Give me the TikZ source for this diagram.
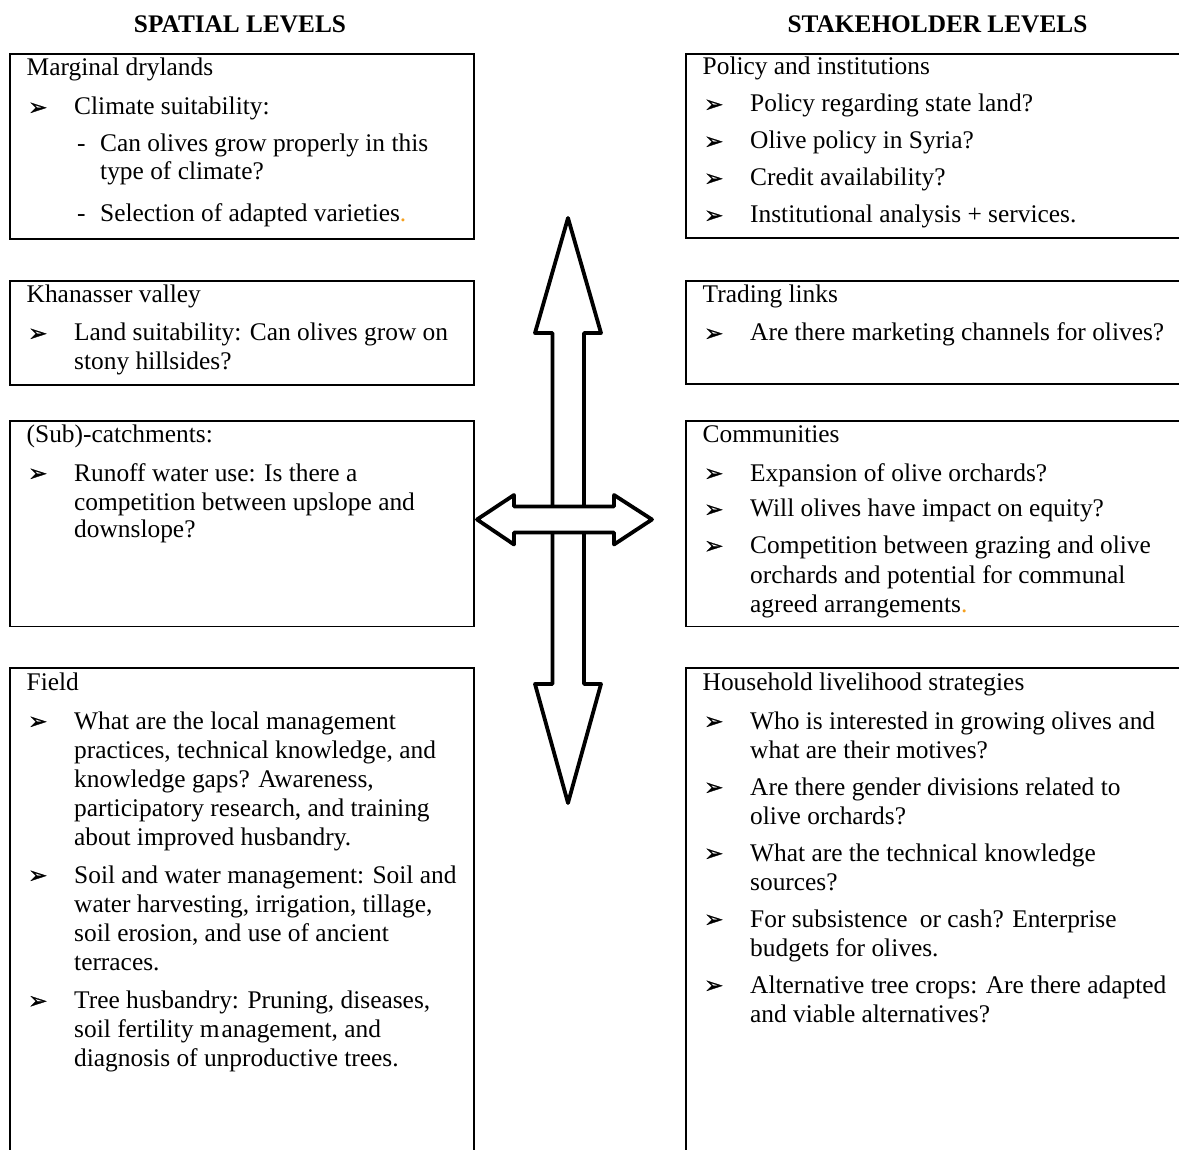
\documentclass[tikz,border=0pt]{standalone}
\usepackage{fontspec}
\setmainfont{Liberation Serif}
\newfontfamily\djv{DejaVu Sans}[FakeBold=1.2]
\definecolor{dotorange}{RGB}{245,160,30}
\newcommand\bulglyph{{\djv\fontsize{23}{23}\selectfont ➢}}
\newcommand\myhd[1]{\hspace*{17.5pt}#1}
\newcommand\mybu[1]{\hspace*{19pt}\makebox[46pt][l]{\bulglyph}#1}
\newcommand\myct[1]{\hspace*{65pt}#1}
\newcommand\mysd[1]{\hspace*{68pt}\makebox[23pt][l]{-}#1}
\newcommand\mysc[1]{\hspace*{91pt}#1}
\newenvironment{lines}{\begin{tabular}[t]{@{}l@{}}}{\end{tabular}}
\tikzset{
  frame/.style={draw=black, line width=1.8pt, inner sep=0pt, anchor=north west},
  txt/.style={anchor=base west, inner sep=0pt, font=\fontsize{25.4}{29}\selectfont},
  ttl/.style={anchor=base, inner sep=0pt, font=\fontsize{25.3}{29}\selectfont\bfseries},
  bigarrow/.style={draw=black, fill=white, line width=3.8pt, line join=round},
}
\begin{document}
\begin{tikzpicture}[x=1pt,y=-1pt]
\useasboundingbox (0,0) rectangle (1179,1150);
\clip (0,0) rectangle (1179,1150);
\fill[white] (0,0) rectangle (1179,1150);

% titles
\node[ttl] (tl) at (240,33) {SPATIAL LEVELS};
\node[ttl] (tr) at (937.5,33) {STAKEHOLDER LEVELS};

% left frames
\node[frame, minimum width=464pt, minimum height=185pt] (b1) at (9,53) {};
\node[frame, minimum width=464pt, minimum height=104pt] (b2) at (9,280) {};
\node[frame, minimum width=464pt, minimum height=205pt] (b3) at (9,420.5) {};
\node[frame, minimum width=464pt, minimum height=520pt] (b4) at (9,667) {};
% right frames
\node[frame, minimum width=520pt, minimum height=184pt] (r1) at (685,53) {};
\node[frame, minimum width=520pt, minimum height=103pt] (r2) at (685,280) {};
\node[frame, minimum width=520pt, minimum height=205pt] (r3) at (685,420.5) {};
\node[frame, minimum width=520pt, minimum height=520pt] (r4) at (685,667) {};

% left texts
\node[txt] (t1) at (9,76) {\begin{lines}\myhd{Marginal drylands}\\[10pt]
\mybu{Climate suitability:}\\[8pt]
\mysd{Can olives grow properly in this}\\[-1pt]
\mysc{type of climate?}\\[13pt]
\mysd{Selection of adapted varieties\textcolor{dotorange}{.}}\end{lines}};

\node[txt] (t2) at (9,302.7) {\begin{lines}\myhd{Khanasser valley}\\[9.3pt]
\mybu{Land suitability: Can olives grow on}\\
\myct{stony hillsides?}\end{lines}};

\node[txt] (t3) at (9,442.7) {\begin{lines}\myhd{(Sub)-catchments:}\\[9.3pt]
\mybu{Runoff water use: Is there a}\\
\myct{competition between upslope and}\\[-1pt]
\myct{downslope?}\end{lines}};

\node[txt] (t4) at (9,690.7) {\begin{lines}\myhd{Field}\\[9.3pt]
\mybu{What are the local management}\\
\myct{practices, technical knowledge, and}\\
\myct{knowledge gaps? Awareness,}\\
\myct{participatory research, and training}\\
\myct{about improved husbandry.}\\[9pt]
\mybu{Soil and water management: Soil and}\\
\myct{water harvesting, irrigation, tillage,}\\
\myct{soil erosion, and use of ancient}\\
\myct{terraces.}\\[9.5pt]
\mybu{Tree husbandry: Pruning, diseases,}\\
\myct{soil fertility m\kern2pt anagement, and}\\
\myct{diagnosis of unproductive trees.}\end{lines}};

% right texts
\node[txt] (s1) at (685,75) {\begin{lines}\myhd{Policy and institutions}\\[8pt]
\mybu{Policy regarding state land?}\\[8pt]
\mybu{Olive policy in Syria?}\\[8pt]
\mybu{Credit availability?}\\[8pt]
\mybu{Institutional analysis + services.}\end{lines}};

\node[txt] (s2) at (685,302.7) {\begin{lines}\myhd{Trading links}\\[9.3pt]
\mybu{Are there marketing channels for olives?}\end{lines}};

\node[txt] (s3) at (685,442.7) {\begin{lines}\myhd{Communities}\\[9.3pt]
\mybu{Expansion of olive orchards?}\\[7pt]
\mybu{Will olives have impact on equity?}\\[7.5pt]
\mybu{Competition between grazing and olive}\\[1pt]
\myct{orchards and potential for communal}\\
\myct{agreed arrangements\textcolor{dotorange}{.}}\end{lines}};

\node[txt] (s4) at (685,690.7) {\begin{lines}\myhd{Household livelihood strategies}\\[9.3pt]
\mybu{Who is interested in growing olives and}\\
\myct{what are their motives?}\\[8pt]
\mybu{Are there gender divisions related to}\\
\myct{olive orchards?}\\[8pt]
\mybu{What are the technical knowledge}\\
\myct{sources?}\\[8pt]
\mybu{For subsistence\hspace{6pt} or cash? Enterprise}\\
\myct{budgets for olives.}\\[8pt]
\mybu{Alternative tree crops: Are there adapted}\\
\myct{and viable alternatives?}\end{lines}};

% central cross of double arrows
\draw[bigarrow] (568,218) -- (601,333) -- (584,333) -- (584,684) -- (601,684)
  -- (568,803) -- (535,684) -- (552.5,684) -- (552.5,333) -- (535,333) -- cycle;
\draw[bigarrow] (477,519.5) -- (514,495) -- (514,506.5) -- (614,506.5) -- (614,495)
  -- (652,519.5) -- (614,544.5) -- (614,532.5) -- (514,532.5) -- (514,544.5) -- cycle;
\end{tikzpicture}
\end{document}
